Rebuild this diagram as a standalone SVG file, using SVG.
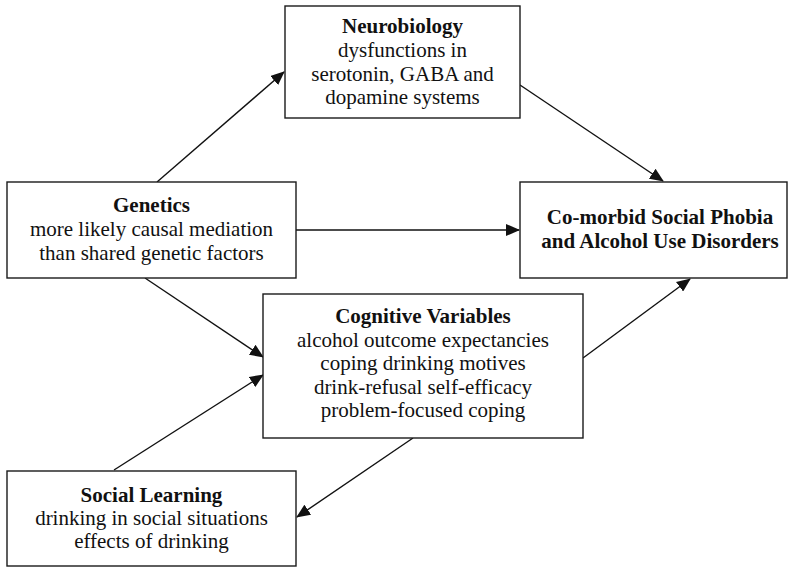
<svg xmlns="http://www.w3.org/2000/svg" width="794" height="568" viewBox="0 0 794 568">
<defs>
<style>
.box{fill:#fff;stroke:#1a1a1a;stroke-width:1.4}
.t{font-family:"Liberation Serif","Times New Roman",serif;font-size:21px;fill:#111;text-anchor:middle}
.b{font-weight:bold}
.c{stroke:#111;stroke-width:1.4;fill:none;marker-end:url(#ah)}
</style>
<marker id="ah" markerUnits="userSpaceOnUse" markerWidth="14" markerHeight="12" viewBox="0 0 14 12" refX="13" refY="6" orient="auto">
<path d="M0,0 L14,6 L0,12 Z" fill="#111"/>
</marker>
</defs>
<rect width="794" height="568" fill="#fff"/>
<g id="connectors">
<line class="c" x1="157" y1="182" x2="284" y2="72"/>
<line class="c" x1="520" y1="85" x2="663" y2="181"/>
<line class="c" x1="296" y1="230" x2="519" y2="230"/>
<line class="c" x1="145" y1="278" x2="263" y2="357"/>
<line class="c" x1="114" y1="470" x2="263" y2="375"/>
<line class="c" x1="413" y1="438" x2="297" y2="517"/>
<line class="c" x1="583" y1="358" x2="690" y2="279"/>
</g>
<g id="neurobiology">
<rect class="box" x="285" y="6" width="235" height="112"/>
<text class="t b" x="402.5" y="33">Neurobiology</text>
<text class="t" x="402.5" y="57">dysfunctions in</text>
<text class="t" x="402.5" y="80.5">serotonin, GABA and</text>
<text class="t" x="402.5" y="104">dopamine systems</text>
</g>
<g id="genetics">
<rect class="box" x="7" y="182" width="289" height="96"/>
<text class="t b" x="151.5" y="212">Genetics</text>
<text class="t" x="151.5" y="236">more likely causal mediation</text>
<text class="t" x="151.5" y="260">than shared genetic factors</text>
</g>
<g id="comorbid">
<rect class="box" x="520" y="182" width="267" height="96"/>
<text class="t b" x="660" y="224">Co-morbid Social Phobia</text>
<text class="t b" x="660" y="248">and Alcohol Use Disorders</text>
</g>
<g id="cognitive">
<rect class="box" x="263" y="294" width="320" height="144"/>
<text class="t b" x="423" y="323">Cognitive Variables</text>
<text class="t" x="423" y="347">alcohol outcome expectancies</text>
<text class="t" x="423" y="370">coping drinking motives</text>
<text class="t" x="423" y="393.5">drink-refusal self-efficacy</text>
<text class="t" x="423" y="417">problem-focused coping</text>
</g>
<g id="social-learning">
<rect class="box" x="7" y="471" width="289" height="95"/>
<text class="t b" x="151.5" y="502">Social Learning</text>
<text class="t" x="151.5" y="525">drinking in social situations</text>
<text class="t" x="151.5" y="548">effects of drinking</text>
</g>
</svg>
